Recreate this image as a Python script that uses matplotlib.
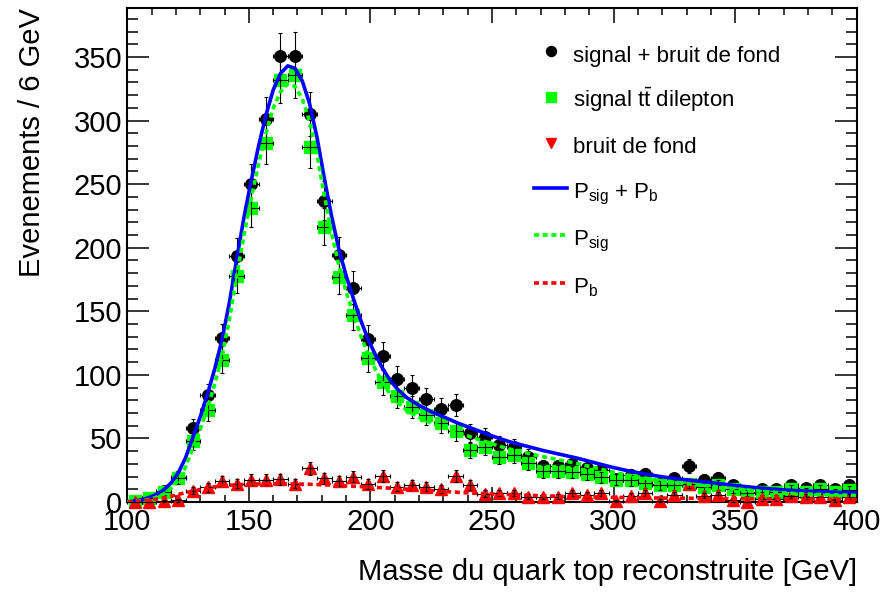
import numpy as np
import matplotlib
matplotlib.use("Agg")
import matplotlib.pyplot as plt
from matplotlib.lines import Line2D
from matplotlib.ticker import MultipleLocator

plt.rcParams["font.family"] = ["Liberation Sans", "DejaVu Sans"]
plt.rcParams["mathtext.fontset"] = "custom"
plt.rcParams["mathtext.rm"] = "Liberation Sans"
plt.rcParams["mathtext.it"] = "Liberation Sans:italic"
plt.rcParams["mathtext.bf"] = "Liberation Sans:bold"

# Histogram binning: 6 GeV bins from 100 to 400 GeV
bin_edges = np.arange(100, 401, 6)
bin_centers = 0.5 * (bin_edges[:-1] + bin_edges[1:])
half_width = 0.5 * np.diff(bin_edges)

# Reconstructed top mass: signal + background, signal only, background only
total = [1, 3, 8.5, 20, 58, 84, 129, 193.5, 250, 301,
         350.5, 351, 305, 237, 194.5, 168.5, 128, 115, 97, 90,
         81, 73.5, 76.5, 54, 51, 45, 43, 35.5, 28, 28,
         29.5, 27, 25, 18, 21, 22, 14.5, 18.5, 28.5, 17.5,
         19, 13, 7.5, 10, 10, 13, 11, 13, 10, 13.5]
signal = [1, 3, 8, 18.5, 48, 72, 112, 177.5, 231.5, 282.5,
          332, 336, 279, 216.5, 177, 147, 113, 94, 83, 75,
          68.5, 62, 55.5, 41, 43.5, 35.5, 37, 30.5, 24, 24,
          23.5, 22, 19.5, 17.5, 17, 15, 13, 13.5, 14, 12,
          13.5, 10.5, 7, 8, 8, 10, 8, 10, 7.5, 9.5]
background = [0, 0, 0.5, 1.5, 9, 11.5, 16.5, 14.5, 17.5, 17.5,
              18, 14.5, 26.5, 18.5, 16.5, 20, 14, 20.5, 12, 13.5,
              12, 10.5, 20.5, 13.5, 6.5, 7, 7, 4, 4, 4,
              7, 5.5, 7, 0.5, 5, 7, 1, 5.5, 14.5, 5,
              5.5, 1.5, 0, 2, 2, 5, 4, 4, 1.5, 4]

# Fitted densities P_sig + P_b, P_sig and P_b
curve_mass = [100, 103, 106, 109, 112, 115, 118, 121, 124, 127,
              130, 133, 136, 139, 142, 145, 148, 151, 154, 157,
              160, 163, 166, 169, 172, 175, 178, 181, 184, 187,
              190, 193, 196, 199, 202, 205, 208, 211, 215, 220,
              225, 230, 236, 243, 250, 257, 264, 271, 278, 285,
              292, 299, 306, 313, 320, 327, 334, 341, 350, 360,
              370, 380, 390, 400]
curve_total = [0.3, 0.8, 1.8, 3.5, 6, 9.5, 15, 23, 35, 51,
               67, 85, 105, 128, 157, 191, 224, 253, 280, 304,
               324, 337, 343, 341, 331, 313, 287, 255, 225, 199,
               178, 160, 143, 128, 116, 105, 96, 89, 82, 76,
               71, 67, 62, 57, 52, 47.5, 44, 40.5, 37.5, 34.5,
               31, 27.5, 24.5, 22, 19.8, 18, 16.5, 15, 13, 11,
               9.5, 8.5, 7.8, 7.2]
curve_sig = [0.3, 0.5, 1.0, 2.0, 3.7, 6.3, 10.5, 17, 27.7, 42.5,
             57.2, 74, 93, 115.3, 143.8, 177.5, 210.2, 239, 265.8, 289.7,
             309.7, 322.7, 328.8, 326.9, 317, 299.1, 273.3, 241.5, 211.7, 186,
             165.3, 147.6, 130.9, 116.2, 104.5, 93.8, 85.1, 78.4, 71.9, 66.5,
             62.1, 58.7, 54.4, 50.1, 45.7, 41.7, 38.7, 35.6, 33, 30.3,
             27.1, 23.8, 21, 18.7, 16.7, 15, 13.6, 12.2, 10.4, 8.5,
             7.1, 6.2, 5.6, 5.1]
curve_bkg = [0, 0.3, 0.8, 1.5, 2.3, 3.2, 4.5, 6, 7.3, 8.5,
             9.8, 11, 12, 12.7, 13.2, 13.5, 13.8, 14, 14.2, 14.3,
             14.3, 14.3, 14.2, 14.1, 14, 13.9, 13.7, 13.5, 13.3, 13,
             12.7, 12.4, 12.1, 11.8, 11.5, 11.2, 10.9, 10.6, 10.1, 9.5,
             8.9, 8.3, 7.6, 6.9, 6.3, 5.8, 5.3, 4.9, 4.5, 4.2,
             3.9, 3.7, 3.5, 3.3, 3.1, 3.0, 2.9, 2.8, 2.6, 2.5,
             2.4, 2.3, 2.2, 2.1]

labels = ["signal + bruit de fond",
          r"signal $\mathregular{t\bar{t}}$ dilepton",
          "bruit de fond",
          r"$\mathregular{P_{sig}}$ + $\mathregular{P_{b}}$",
          r"$\mathregular{P_{sig}}$",
          r"$\mathregular{P_{b}}$"]

GREEN = "#00ff00"
RED = "#ff0000"
BLUE = "#0000ff"
dot_pattern = (1.4, 1.0)

fig = plt.figure(figsize=(8.85, 5.93), dpi=100)
ax = fig.add_axes([127.3 / 885, 91 / 593, 729.4 / 885, 494 / 593])


def draw_points(values, marker, color, ms, z):
    vals = np.asarray(values, dtype=float)
    cont = ax.errorbar(bin_centers, vals, xerr=half_width, yerr=np.sqrt(vals),
                       fmt=marker, color=color, ms=ms, mec=color,
                       ecolor="black", elinewidth=0.8, capsize=1.6,
                       capthick=0.8, zorder=z)
    for art in cont.get_children():
        art.set_clip_on(False)
        art.set_zorder(z)
    return cont


draw_points(total, "o", "black", 8.3, 3)
draw_points(signal, "s", GREEN, 8.3, 3.1)
draw_points(background, "^", RED, 8.3, 3.2)

ax.plot(curve_mass, curve_total, color=BLUE, lw=2.6, zorder=4)
ax.plot(curve_mass, curve_sig, color=GREEN, lw=2.6, dashes=dot_pattern, zorder=4)
ax.plot(curve_mass, curve_bkg, color=RED, lw=2.6, dashes=dot_pattern, zorder=4)

ax.set_xlim(100, 400)
ax.set_ylim(0, 388.5)
ax.xaxis.set_major_locator(MultipleLocator(50))
ax.xaxis.set_minor_locator(MultipleLocator(10))
ax.yaxis.set_major_locator(MultipleLocator(50))
ax.yaxis.set_minor_locator(MultipleLocator(10))
ax.tick_params(which="both", direction="in", top=True, right=True,
               width=1.1, labelsize=21, colors="black")
ax.tick_params(axis="x", which="major", length=10.7, pad=4.5)
ax.tick_params(axis="x", which="minor", length=5.3)
ax.tick_params(axis="y", which="major", length=15.8, pad=3.6)
ax.tick_params(axis="y", which="minor", length=7.9)
for sp in ax.spines.values():
    sp.set_linewidth(1.5)

ax.set_xlabel("Masse du quark top reconstruite [GeV]", fontsize=21,
              ha="right", va="center")
ax.xaxis.set_label_coords(1.0, -0.142)
ax.set_ylabel("Evenements / 6 GeV", fontsize=21, loc="top")
ax.yaxis.set_label_coords(-0.1115, 1.0)

handles = [
    Line2D([], [], ls="none", marker="o", color="black", ms=7.2),
    Line2D([], [], ls="none", marker="s", color=GREEN, ms=7.4),
    Line2D([], [], ls="none", marker="v", color=RED, ms=7.2),
    Line2D([], [], color=BLUE, lw=2.6),
    Line2D([], [], color=GREEN, lw=2.6, dashes=dot_pattern),
    Line2D([], [], color=RED, lw=2.6, dashes=dot_pattern),
]
ax.legend(handles, labels, loc="upper left",
          bbox_to_anchor=(534 / 885, 1 - 41 / 593),
          bbox_transform=fig.transFigure, frameon=False, fontsize=16,
          handlelength=1.5, handleheight=1.5, handletextpad=0.25,
          labelspacing=0.81, borderpad=0, borderaxespad=0)

fig.savefig("out.png", dpi=100, facecolor="white")
